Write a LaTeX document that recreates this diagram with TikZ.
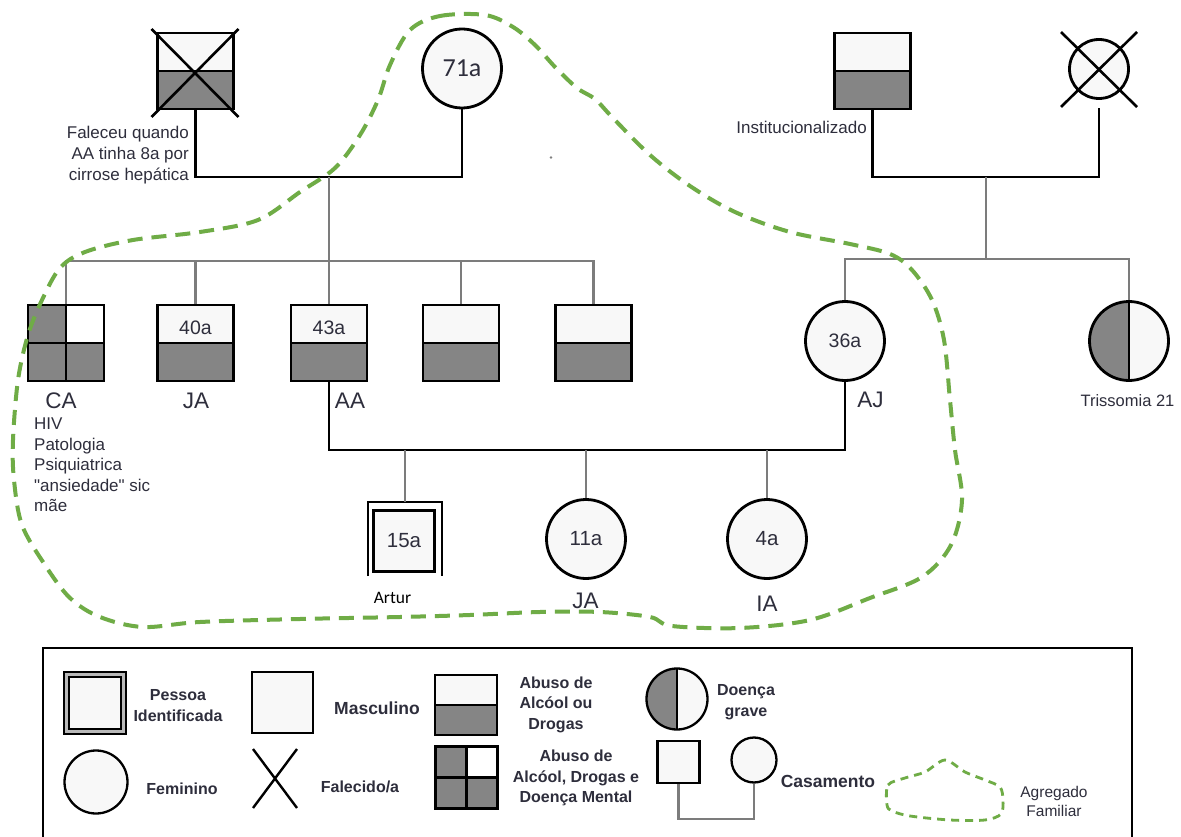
\documentclass[tikz,border=0pt]{standalone}
\usepackage{fontspec}
\setmainfont{Liberation Sans}
\newfontfamily\calfont{Carlito}
\usetikzlibrary{calc}

\definecolor{hatchgray}{HTML}{858585}
\definecolor{symfill}{HTML}{F8F8F8}
\definecolor{linegray}{HTML}{7C7C7C}
\definecolor{txt}{HTML}{2E2E3C}
\definecolor{cloudgreen}{HTML}{6FAC46}

\newcommand\myfs[2]{\fontsize{#1}{#2}\selectfont}
% straight double quote glyph, bypassing the TeX ligature mapping
\newcommand\sdq{\XeTeXglyph\XeTeXcharglyph"0022\relax}

\tikzset{
  sym/.style={draw=black, line width=2.8pt, fill=symfill, inner sep=0pt, text=txt},
  malebox/.style={sym, rectangle, minimum size=76pt},
  femcirc/.style={sym, circle, minimum size=79pt},
  halfabuse/.style={path picture={
      \fill[hatchgray] (path picture bounding box.west) rectangle (path picture bounding box.south east);
      \draw[line width=2.4pt] (path picture bounding box.west) -- (path picture bounding box.east);}},
  quad/.style={path picture={
      \fill[hatchgray] (path picture bounding box.south west) rectangle (path picture bounding box.north east);
      \fill[white] (path picture bounding box.center) rectangle (path picture bounding box.north east);
      \draw[line width=2.4pt] (path picture bounding box.north) -- (path picture bounding box.south);
      \draw[line width=2.4pt] (path picture bounding box.west) -- (path picture bounding box.east);}},
  lefthalf/.style={path picture={
      \fill[hatchgray] (path picture bounding box.south west) rectangle (path picture bounding box.north);
      \draw[line width=2.2pt] (path picture bounding box.north) -- (path picture bounding box.south);}},
  xline/.style={line width=2.6pt, black},
  kin/.style={line width=2.6pt, black},
  sib/.style={line width=2.6pt, linegray},
  agetxt/.style={inner sep=0pt, text=txt, font=\myfs{19.5}{20}},
  nametxt/.style={inner sep=0pt, text=txt, font=\myfs{22.5}{24}},
  notetxt/.style={inner sep=0pt, text=txt, font=\myfs{17}{21}},
  legsym/.style={sym, line width=2.3pt},
  legtxt/.style={inner sep=0pt, text=txt, align=center, font=\bfseries\myfs{16}{20.5}},
  cloud/.style={cloudgreen, line width=4pt, dash pattern=on 15pt off 9pt},
}

\begin{document}
\begin{tikzpicture}[x=1pt,y=-1pt]
\useasboundingbox[fill=white] (0,0) rectangle (1181,837);

% ---------- paternal grandparents ----------
\node[malebox, halfabuse] (gf) at (195.5,71) {};
\draw[xline] ($(gf.center)+(-44,-42)$) -- ($(gf.center)+(43,46)$);
\draw[xline] ($(gf.center)+(43,-42)$) -- ($(gf.center)+(-44,46)$);
\node[femcirc] (gm) at (462,68.5) {\calfont\myfs{26}{26}71a};
\coordinate (c1) at (329,177);
\draw[kin] (gf.south) |- (c1) -| (gm.south);
\node[notetxt, align=right, anchor=north east] (gf-note) at (189,126)
  {Faleceu quando\\AA tinha 8a por\\cirrose hepática};

% ---------- siblings ----------
\coordinate (sibbar) at (329,261);
\draw[sib] (c1) -- (sibbar);
\node[malebox, quad] (ca) at (66,343) {};
\node[malebox, halfabuse] (ja) at (195.5,343) {};
\node[malebox, halfabuse] (aa) at (329,343) {};
\node[malebox, halfabuse] (s4) at (461,343) {};
\node[malebox, halfabuse] (s5) at (593.5,343) {};
\draw[sib] (ca.north) |- (s5.north |- sibbar) -- (s5.north);
\foreach \n in {ja,aa,s4} \draw[sib] (\n.north) -- (\n.north |- sibbar);
\node[agetxt] (ja-age) at (195.5,328) {40a};
\node[agetxt] (aa-age) at (329,328) {43a};
\node[nametxt] (ca-name) at (61,400.5) {CA};
\node[nametxt] (ja-name) at (196,400.5) {JA};
\node[nametxt] (aa-name) at (350,400.5) {AA};
\node[notetxt, align=left, anchor=north west, font=\myfs{17}{20.5}] (ca-note) at (34,418)
  {HIV\\Patologia\\Psiquiatrica\\\sdq ansiedade\sdq{} sic\\mãe};

% ---------- maternal grandparents ----------
\node[malebox, halfabuse] (inst) at (872.5,71) {};
\node[sym, circle, minimum size=59pt] (gmr) at (1099,69) {};
\draw[xline] ($(gmr.center)+(-38,-37)$) -- ($(gmr.center)+(38,38)$);
\draw[xline] ($(gmr.center)+(38,-37)$) -- ($(gmr.center)+(-38,38)$);
\coordinate (gmr-foot) at ($(gmr.center)+(0,39)$);
\coordinate (c2) at (986,177);
\draw[kin] (inst.south) |- (c2) -| (gmr-foot);
\node[notetxt, anchor=east] (inst-note) at (867,127) {Institucionalizado};

\coordinate (sb2) at (986,259);
\draw[sib] (c2) -- (sb2);
\node[femcirc, font=\myfs{19.5}{20}] (aj) at (845,341) {36a};
\node[femcirc, lefthalf] (t21) at (1129,341) {};
\draw[sib] (aj.north) |- (sb2) -| (t21.north);
\node[nametxt] (aj-name) at (870.5,399.5) {AJ};
\node[notetxt, font=\myfs{16.5}{20}] (t21-note) at (1127.5,401) {Trissomia 21};

% ---------- couple AA + AJ and their children ----------
\coordinate (c3) at (586,450);
\draw[kin] (aa.south) |- (c3) -| (aj.south);

\node[rectangle, minimum size=74pt, inner sep=0pt, outer sep=0pt] (arturframe) at (405,539) {};
\draw[line width=2.8pt] (arturframe.south west) |- (arturframe.north east) -- (arturframe.south east);
\node[sym, rectangle, minimum size=61pt, font=\myfs{20.5}{21}] (artur) at (404,541) {15a};
\draw[sib] (arturframe.north) -- (arturframe.north |- c3);
\node[femcirc, font=\myfs{20.5}{21}] (ja2) at (586,539) {11a};
\node[femcirc, font=\myfs{20.5}{21}] (ia) at (767,539) {4a};
\foreach \n in {ja2,ia} \draw[sib] (\n.north) -- (\n.north |- c3);
\node[inner sep=0pt, font=\calfont\myfs{17.5}{18}] (artur-name) at (392.5,597.5) {Artur};
\node[nametxt] (ja2-name) at (585.5,601) {JA};
\node[nametxt] (ia-name) at (767,604) {IA};

\fill[gray] (551,157.5) circle (1.3);

% ---------- household outline ----------
\draw[cloud] plot[smooth cycle, tension=0.55] coordinates {
  (410,30) (440,16) (485,15) (513,27) (535,45) (555,67) (577,88) (595,99)
  (612,117) (650,155) (690,186) (735,212) (790,232) (850,244) (890,254)
  (912,270) (932,300) (944,340) (950,400) (955,450) (962,500) (951,545)
  (922,577) (870,598) (810,620) (740,628) (672,626) (650,617) (600,612)
  (540,612) (470,615) (400,617) (300,619) (200,622) (143,627) (100,617)
  (70,598) (45,565) (22,525) (14,480) (13,440) (18,380) (28,335) (42,300)
  (60,268) (85,252) (133,240) (200,232) (258,220) (300,192) (335,168)
  (360,135) (378,100) (390,65)};

% ---------- legend ----------
\draw[line width=2pt] (43,845) |- (1132,648) -- (1132,845);

\node[rectangle, minimum size=62pt, inner sep=0pt, draw=black, line width=2.2pt, fill=gray!55] (lg-pi-out) at (95,703) {};
\node[legsym, rectangle, minimum size=52pt] (lg-pi) at (95,703) {};
\node[legtxt] (lg-pi-txt) at (178,705.5) {Pessoa\\Identificada};

\node[legsym, rectangle, minimum size=61pt] (lg-m) at (282.5,702.5) {};
\node[legtxt, font=\bfseries\myfs{17.5}{20}] (lg-m-txt) at (377,708) {Masculino};

\node[legsym, circle, minimum size=63pt] (lg-f) at (96,782) {};
\node[legtxt] (lg-f-txt) at (182,789) {Feminino};

\coordinate (lg-x) at (275,778.5);
\draw[xline, line width=2.4pt] ($(lg-x)+(-22,-29.5)$) -- ($(lg-x)+(22,29.5)$);
\draw[xline, line width=2.4pt] ($(lg-x)+(22,-29.5)$) -- ($(lg-x)+(-22,29.5)$);
\node[legtxt] (lg-x-txt) at (360,787) {Falecido/a};

\node[legsym, rectangle, minimum width=62pt, minimum height=60pt, halfabuse] (lg-a) at (466,705) {};
\node[legtxt] (lg-a-txt) at (556,704.5) {Abuso de\\Alcóol ou\\Drogas};

\node[legsym, rectangle, minimum size=62pt, quad] (lg-q) at (466.5,777.5) {};
\node[legtxt] (lg-q-txt) at (576,778) {Abuso de\\Alcóol, Drogas e\\Doença Mental};

\node[legsym, circle, minimum size=61pt, lefthalf] (lg-d) at (677,699) {};
\node[legtxt] (lg-d-txt) at (746,702) {Doença\\grave};

\node[legsym, rectangle, minimum size=42pt] (lg-cm) at (678.5,762) {};
\node[legsym, circle, minimum size=45pt] (lg-cf) at (754,760) {};
\draw[sib, line width=2.2pt] (lg-cm.south) |- ($(lg-cf.south)+(0,35)$) -- (lg-cf.south);
\node[legtxt, font=\bfseries\myfs{17.5}{20}] (lg-c-txt) at (828,781) {Casamento};

\draw[cloudgreen, line width=2.8pt, dash pattern=on 8pt off 6pt] plot[smooth cycle, tension=0.5] coordinates {
  (887,805) (888,785) (905,778) (925,772) (945,760) (965,772) (985,780)
  (1000,787) (1003,800) (1001,814) (985,820) (950,820) (910,816) (892,811)};
\node[legtxt, font=\myfs{15.5}{19}] (lg-g-txt) at (1054,801.5) {Agregado\\Familiar};
\end{tikzpicture}
\end{document}
